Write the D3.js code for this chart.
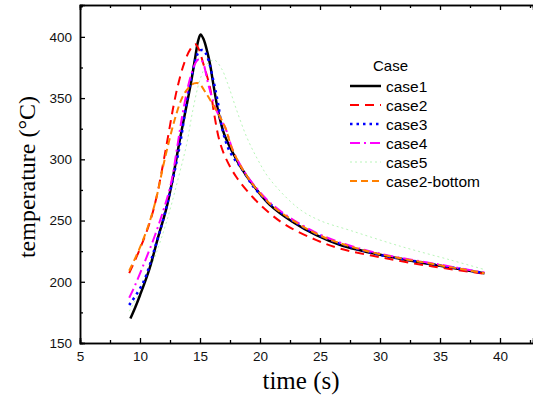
<!DOCTYPE html>
<html>
<head>
<meta charset="utf-8">
<script src="https://cdn.jsdelivr.net/npm/d3@7"></script>
<style>
body { margin: 0; background: #fff; }
</style>
</head>
<body>
<div class="chartfield"></div>
<script>
var width = 533;
var height = 397;
var margin = {left: 80, right: 0, top: 5, bottom: 54};

var caseNames = ["case1", "case2", "case3", "case4", "case5", "case2-bottom"];
var xTicks = [5, 10, 15, 20, 25, 30, 35, 40];
var yTicks = [150, 200, 250, 300, 350, 400];

var case1X = [9.2, 9.6, 10.0, 10.8, 11.5, 12.2, 12.8, 13.3, 13.8, 14.2, 14.6, 14.85, 15.05, 15.3, 15.6, 15.85, 16.1, 16.5, 17.0, 17.7, 18.5, 19.5, 20.8, 22.7, 24.7, 26.7, 30, 35, 38.7];
var case1Y = [170, 179, 189, 211, 236, 260, 288, 315, 340, 360, 383, 397, 402, 398, 388, 377, 362, 340, 321, 306, 292, 278, 263, 249, 238, 230, 222, 213, 207];

var case2X = [9.1, 10.0, 10.8, 11.4, 11.9, 12.4, 12.8, 13.2, 13.7, 14.2, 14.6, 14.9, 15.25, 15.8, 16.2, 16.6, 17.1, 18.0, 19.4, 20.8, 22.2, 24.7, 26.7, 30.3, 34.4, 38.7];
var case2Y = [207, 227, 248, 270, 295, 322, 344, 362, 379, 390, 394, 390, 379, 360, 336, 316, 302, 286, 269, 256, 246, 234, 227, 219.5, 212.5, 206.5];

var case3X = [9.1, 10.25, 11.25, 12.1, 12.9, 13.4, 13.9, 14.4, 14.75, 15.0, 15.3, 15.6, 16.1, 16.5, 16.9, 17.5, 18.5, 19.5, 20.8, 22.7, 24.7, 26.7, 30, 35, 38.7];
var case3Y = [181, 199, 228, 257, 291, 316, 348, 372, 385, 389, 389, 384, 365, 346, 323, 306, 292, 277, 264, 250, 239, 231, 222, 213.5, 207];

var case4X = [9.1, 9.4, 10.3, 11.25, 12.0, 12.6, 13.1, 13.6, 14.2, 14.7, 15.0, 15.25, 15.7, 16.25, 16.7, 17.1, 17.75, 18.5, 19.5, 20.8, 22.7, 24.7, 26.7, 30, 35, 38.7];
var case4Y = [187, 193, 214, 238, 260, 281, 310, 340, 367, 380, 382, 379, 361, 343, 333, 326, 307, 293, 279, 265, 251, 240, 232, 223, 214, 207.5];

var case5X = [9.1, 10.2, 11.3, 12.3, 13.2, 13.9, 14.4, 15.0, 15.6, 16.2, 16.8, 17.3, 18.06, 18.9, 19.8, 20.8, 23.2, 25, 27.5, 31.7, 35.8, 38.7];
var case5Y = [176, 196, 222, 252, 285, 313, 340, 365, 378, 381, 374, 362, 340, 318, 300, 284, 260, 250, 242, 229, 218, 210];

var case2bX = [9.1, 10.0, 10.8, 11.4, 11.9, 12.5, 13.0, 13.5, 14.0, 14.5, 14.9, 15.5, 16.0, 16.6, 17.1, 17.75, 19.0, 20.8, 22.75, 24.75, 26.5, 30, 35, 38.7];
var case2bY = [209, 228, 249, 270, 293, 318, 336, 350, 358, 362, 362, 354, 346, 336, 326, 307, 285, 264, 250, 239, 232, 222.5, 213.5, 207];

var seriesX = [case1X, case2X, case3X, case4X, case5X, case2bX];
var seriesY = [case1Y, case2Y, case3Y, case4Y, case5Y, case2bY];

var colors = ["#000000", "#ff0000", "#0000ff", "#ff00ff", "#b8f5b8", "#ff8000"];
var widths = [2.5, 2, 2.5, 2, 1, 2];
var dashes = [null, "9,6", "2.5,4", "10,4,2,4", "2,3", "7,4"];

var svg = d3.select(".chartfield")
	.append("svg")
	.attr("width", width)
	.attr("height", height);

var x = d3.scaleLinear()
	.domain([5, 5 + (width - margin.left) / 12])
	.range([margin.left, width]);
var y = d3.scaleLinear()
	.domain([150, 150 + (343 - margin.top) / 1.2245])
	.range([343, margin.top]);

var minorX = d3.range(7.5, 43, 5);
var minorY = d3.range(175, 426, 50);

// ticks point inward on all sides
svg.append("g")
	.attr("transform", "translate(0,343)")
	.call(d3.axisBottom(x).tickValues(xTicks).tickSize(-5).tickPadding(8).tickFormat(d3.format("d")));
svg.append("g")
	.attr("transform", "translate(0,343)")
	.call(d3.axisBottom(x).tickValues(minorX).tickSize(-3).tickFormat(""));
svg.append("g")
	.attr("transform", "translate(" + margin.left + ",0)")
	.call(d3.axisLeft(y).tickValues(yTicks).tickSize(-5).tickPadding(8));
svg.append("g")
	.attr("transform", "translate(" + margin.left + ",0)")
	.call(d3.axisLeft(y).tickValues(minorY).tickSize(-3).tickFormat(""));
svg.append("g")
	.attr("transform", "translate(0," + margin.top + ")")
	.call(d3.axisTop(x).tickValues(xTicks).tickSize(-5).tickFormat(""));
svg.append("g")
	.attr("transform", "translate(0," + margin.top + ")")
	.call(d3.axisTop(x).tickValues(minorX).tickSize(-3).tickFormat(""));

svg.selectAll(".domain").attr("stroke-width", 1.5);
svg.selectAll(".tick line").attr("stroke-width", 1.3);
svg.selectAll(".tick text")
	.style("font-family", "'Liberation Sans', Arial, sans-serif")
	.style("font-size", "13.5px")
	.attr("fill", "#111");

var line = d3.line()
	.x(function(d) { return x(d[0]); })
	.y(function(d) { return y(d[1]); })
	.curve(d3.curveCatmullRom);

var order = [4, 0, 1, 2, 3, 5];
order.forEach(function(i) {
	var pts = d3.zip(seriesX[i], seriesY[i]);
	svg.append("path")
		.datum(pts)
		.attr("d", line)
		.attr("fill", "none")
		.attr("stroke", colors[i])
		.attr("stroke-width", widths[i])
		.attr("stroke-dasharray", dashes[i]);
});

// legend
var legend = svg.append("g").attr("transform", "translate(350,0)");
legend.append("text")
	.attr("x", 23)
	.attr("y", 71)
	.style("font-family", "'Liberation Sans', Arial, sans-serif")
	.style("font-size", "15px")
	.text("Case");
caseNames.forEach(function(name, i) {
	var ly = 86 + i * 19;
	legend.append("line")
		.attr("x1", 0).attr("x2", 31)
		.attr("y1", ly).attr("y2", ly)
		.attr("stroke", colors[i])
		.attr("stroke-width", widths[i])
		.attr("stroke-dasharray", dashes[i]);
	legend.append("text")
		.attr("x", 36)
		.attr("y", ly + 5.5)
		.style("font-family", "'Liberation Sans', Arial, sans-serif")
		.style("font-size", "15.5px")
		.text(name);
});

svg.append("text")
	.attr("x", 301)
	.attr("y", 389)
	.attr("text-anchor", "middle")
	.style("font-family", "'Liberation Serif', 'Times New Roman', serif")
	.style("font-size", "25px")
	.text("time (s)");

svg.append("text")
	.attr("transform", "translate(35,177) rotate(-90)")
	.attr("text-anchor", "middle")
	.style("font-family", "'Liberation Serif', 'Times New Roman', serif")
	.style("font-size", "24px")
	.text("temperature (°C)");
</script>
</body>
</html>
